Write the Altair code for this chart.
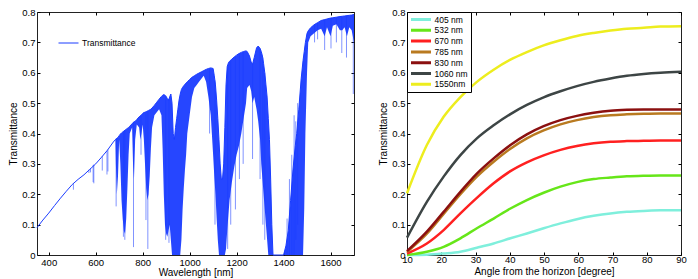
import altair as alt
import pandas as pd

BLUE = "#1a3cff"

# ---------------- left panel: transmittance spectrum (envelopes)
wl = [350, 375, 400, 425, 450, 475, 500, 525, 550, 575, 600, 625, 650, 675, 684,
      686, 690, 695, 700, 705, 710, 715, 720, 725, 730, 735, 740, 745, 755, 759,
      763, 768, 775, 785, 790, 795, 800, 805, 810, 815, 820, 825, 830, 835, 840,
      850, 860, 870, 880, 885, 890, 895, 900, 905, 910, 915, 920, 925, 930, 935,
      940, 945, 950, 955, 960, 965, 970, 975, 980, 985, 990, 1000, 1010, 1020, 1030,
      1040, 1050, 1060, 1070, 1080, 1090, 1100, 1105, 1110, 1115, 1120, 1125, 1130, 1135, 1140,
      1145, 1150, 1155, 1160, 1165, 1170, 1180, 1190, 1200, 1210, 1220, 1230, 1240, 1245, 1255,
      1262, 1268, 1275, 1285, 1292, 1300, 1305, 1310, 1315, 1320, 1325, 1330, 1335, 1340, 1345,
      1350, 1355, 1400, 1410, 1420, 1430, 1440, 1450, 1456, 1465, 1475, 1483, 1488, 1493, 1500,
      1505, 1515, 1530, 1545, 1560, 1575, 1585, 1600, 1610, 1625, 1640, 1650, 1660, 1670, 1680,
      1690, 1700]
upper = [.090, .115, .138, .163, .187, .210, .232, .249, .264, .282, .300, .322, .345, .372, .380,
         .382, .384, .387, .393, .398, .402, .405, .408, .411, .414, .417, .420, .424, .432, .436,
         .438, .440, .446, .455, .458, .462, .466, .469, .470, .472, .474, .476, .478, .480, .484,
         .493, .503, .513, .522, .526, .528, .526, .522, .515, .510, .520, .530, .500, .400, .380,
         .420, .450, .480, .510, .530, .545, .552, .557, .562, .566, .570, .578, .585, .590, .595,
         .599, .603, .607, .611, .614, .616, .614, .590, .560, .510, .450, .380, .300, .250, .250,
         .300, .420, .560, .620, .632, .638, .645, .652, .658, .663, .667, .670, .672, .670, .655,
         .635, .628, .650, .682, .688, .680, .670, .655, .630, .600, .560, .520, .450, .380, .250,
         .100, .000, .000, .030, .080, .180, .280, .360, .400, .480, .580, .640, .670, .700, .730,
         .738, .748, .758, .765, .772, .775, .777, .780, .781, .783, .785, .786, .787, .788, .789,
         .790, .792]
lower = [.090, .115, .138, .163, .187, .210, .232, .249, .264, .282, .300, .322, .345, .372, .380,
         .300, .200, .260, .380, .300, .180, .120, .080, .070, .120, .220, .330, .400, .420, .300,
         .250, .380, .430, .420, .380, .400, .430, .380, .300, .220, .180, .200, .260, .350, .420,
         .460, .470, .480, .460, .350, .200, .100, .070, .060, .080, .100, .050, .000, .000, .000,
         .000, .000, .000, .000, .000, .050, .150, .220, .280, .330, .400, .460, .520, .550, .560,
         .570, .580, .590, .570, .520, .460, .330, .260, .200, .120, .050, .000, .000, .000, .000,
         .000, .000, .020, .080, .130, .180, .240, .290, .330, .360, .400, .450, .500, .550, .560,
         .540, .500, .520, .480, .440, .380, .300, .250, .200, .150, .100, .050, .000, .000, .000,
         .000, .000, .000, .000, .000, .000, .000, .000, .000, .000, .000, .000, .150, .400, .600,
         .700, .720, .730, .740, .745, .720, .750, .720, .755, .760, .740, .740, .750, .720, .750,
         .740, .700]

# narrow absorption lines: wavelength, top, bottom
spike_wl = [505, 571, 578, 589, 592, 628, 648, 652, 687, 718, 724, 761, 793, 814, 822,
            898, 912, 1085, 1108, 1162, 1175, 1195, 1212, 1228, 1268, 1300, 1312, 1320,
            1415, 1425, 1435, 1445, 1452, 1460, 1532, 1545, 1575, 1602, 1625, 1648, 1668, 1697]
spike_top = [.236, .281, .285, .296, .298, .325, .343, .347, .383, .407, .411, .437, .460, .471, .474,
             .525, .512, .615, .575, .625, .640, .655, .663, .668, .628, .680, .650, .600,
             .120, .250, .330, .460, .440, .500, .758, .765, .775, .780, .783, .786, .788, .790]
spike_bot = [.215, .270, .272, .240, .236, .278, .265, .275, .160, .060, .050, .026, .330, .115, .020,
             .050, .040, .400, .100, .020, .100, .150, .250, .300, .316, .250, .100, .050,
             .000, .000, .000, .000, .050, .100, .700, .710, .675, .680, .700, .665, .650, .530]

# ---------------- right panel: transmittance vs elevation angle
angles = [10, 15.8, 20.7, 25.6, 30.4, 35.3, 40.2, 45, 49.9, 54.8, 59.6, 64.5, 69.4, 74.2, 79.1, 84, 90]
t405 = [0.0, 0.001, 0.005, 0.011, 0.024, 0.038, 0.055, 0.071, 0.088, 0.104, 0.118, 0.129, 0.137, 0.142, 0.145, 0.147, 0.147]
t532 = [0.0, 0.011, 0.027, 0.055, 0.088, 0.120, 0.153, 0.181, 0.205, 0.225, 0.240, 0.250, 0.255, 0.259, 0.261, 0.262, 0.262]
t670 = [0.005, 0.038, 0.082, 0.137, 0.188, 0.236, 0.276, 0.305, 0.328, 0.346, 0.359, 0.368, 0.373, 0.375, 0.376, 0.377, 0.377]
t785 = [0.010, 0.070, 0.135, 0.200, 0.258, 0.307, 0.350, 0.384, 0.410, 0.430, 0.444, 0.454, 0.460, 0.463, 0.465, 0.466, 0.466]
t830 = [0.013, 0.077, 0.142, 0.208, 0.268, 0.318, 0.362, 0.397, 0.424, 0.444, 0.458, 0.468, 0.475, 0.478, 0.479, 0.479, 0.479]
t1060 = [0.057, 0.175, 0.258, 0.329, 0.384, 0.427, 0.464, 0.494, 0.519, 0.539, 0.556, 0.570, 0.581, 0.590, 0.596, 0.600, 0.603]
t1550 = [0.203, 0.362, 0.455, 0.520, 0.570, 0.610, 0.643, 0.668, 0.690, 0.707, 0.721, 0.731, 0.739, 0.745, 0.748, 0.752, 0.753]
series_labels = ["405 nm", "532 nm", "670 nm", "785 nm", "830 nm", "1060 nm", "1550nm"]
series_colors = ["#7fefdc", "#66e619", "#ff2020", "#b97a20", "#8b1010", "#3d4545", "#eded1e"]

y_ticks = [0, 0.1, 0.2, 0.3, 0.4, 0.5, 0.6, 0.7, 0.8]
wl_ticks = [400, 600, 800, 1000, 1200, 1400, 1600]
angle_ticks = [10, 20, 30, 40, 50, 60, 70, 80, 90]

# ---------------- tables
spec_df = pd.DataFrame({"wl": wl, "upper": upper, "lower": lower})
spec_df["name"] = "Transmittance"
spike_df = pd.DataFrame({"swl": spike_wl, "stop": spike_top, "sbot": spike_bot})
rows = []
for lab, vals in zip(series_labels, [t405, t532, t670, t785, t830, t1060, t1550]):
    for a, v in zip(angles, vals):
        rows.append({"angle": a, "T": v, "label": lab})
ang_df = pd.DataFrame(rows)

FONT = "Liberation Sans"


def main_axis(orient, values, title, label_pad, title_pad, fmt):
    return alt.Axis(orient=orient, values=values, offset=-3, tickSize=3, domain=False, grid=False,
                    labelPadding=label_pad, title=title, titlePadding=title_pad, format=fmt,
                    labelFontSize=9.5, titleFontSize=10, labelColor="black", titleColor="black",
                    tickColor="black", titleFontWeight="normal", labelFlush=False,
                    labelOverlap=False, labelFont=FONT, titleFont=FONT)


def mirror_axis(orient, values):
    return alt.Axis(orient=orient, values=values, offset=-3, tickSize=3, domain=False,
                    grid=False, labels=False, title=None, tickColor="black")


H = 243
xs_l = alt.Scale(domain=[350, 1700], nice=False, zero=False)
ys = alt.Scale(domain=[0, 0.8], nice=False)

area = alt.Chart(spec_df).mark_area(color=BLUE, opacity=0.95).encode(
    x=alt.X("wl:Q", scale=xs_l, axis=main_axis("bottom", wl_ticks, "Wavelength [nm]", 2, 1, "d")),
    y=alt.Y("upper:Q", scale=ys, axis=main_axis("left", y_ticks, "Transmittance", 2, 3, ".1~f")),
    y2="lower:Q",
)
spikes = alt.Chart(spike_df).mark_rule(color=BLUE, opacity=0.55, strokeWidth=1).encode(
    x=alt.X("swl:Q", scale=xs_l, axis=None),
    y=alt.Y("stop:Q", scale=ys, axis=None),
    y2="sbot:Q",
)
line = alt.Chart(spec_df).mark_line(strokeWidth=1).encode(
    x=alt.X("wl:Q", scale=xs_l, axis=mirror_axis("top", wl_ticks)),
    y=alt.Y("upper:Q", scale=ys, axis=mirror_axis("right", y_ticks)),
    color=alt.Color("name:N", scale=alt.Scale(range=[BLUE]),
                    legend=alt.Legend(orient="none", legendX=21, legendY=26, title=None,
                                      symbolType="stroke", symbolSize=400, symbolStrokeWidth=1,
                                      labelFontSize=8.5, labelFont=FONT, labelColor="black",
                                      padding=0, labelOffset=3, clipHeight=10)),
)
left = alt.layer(area, spikes, line).properties(width=317, height=H).resolve_axis(
    x="independent", y="independent")

xs_r = alt.Scale(domain=[10, 90], nice=False, zero=False)
curves = alt.Chart(ang_df).mark_line(strokeWidth=2.5, interpolate="monotone").encode(
    x=alt.X("angle:Q", scale=xs_r,
            axis=main_axis("bottom", angle_ticks, "Angle from the horizon [degree]", -1, 3, "d")),
    y=alt.Y("T:Q", scale=ys, axis=main_axis("left", y_ticks, "Transmittance", 2, 3, ".1~f")),
    color=alt.Color("label:N", sort=series_labels,
                    scale=alt.Scale(domain=series_labels, range=series_colors),
                    legend=alt.Legend(orient="none", legendX=0, legendY=0, title=None,
                                      symbolType="stroke", symbolSize=400, symbolStrokeWidth=3,
                                      labelFontSize=8.5, labelFont=FONT, labelColor="black",
                                      strokeColor="black", fillColor="white", padding=2.5,
                                      rowPadding=0.8, labelOffset=2, clipHeight=10)),
)
mirror_r = alt.Chart(ang_df).mark_line(opacity=0).encode(
    x=alt.X("angle:Q", scale=xs_r, axis=mirror_axis("top", angle_ticks)),
    y=alt.Y("T:Q", scale=ys, axis=mirror_axis("right", y_ticks)),
    detail="label:N",
)
right = alt.layer(curves, mirror_r).properties(width=274, height=H).resolve_axis(
    x="independent", y="independent")

chart = alt.hconcat(left, right, spacing=21).resolve_scale(color="independent").properties(
    padding={"left": 0, "right": 0, "top": -2, "bottom": 0}
).configure(font=FONT).configure_view(stroke="#222", strokeWidth=1)

chart.save("out.html", embed_options={"renderer": "svg", "actions": False})
